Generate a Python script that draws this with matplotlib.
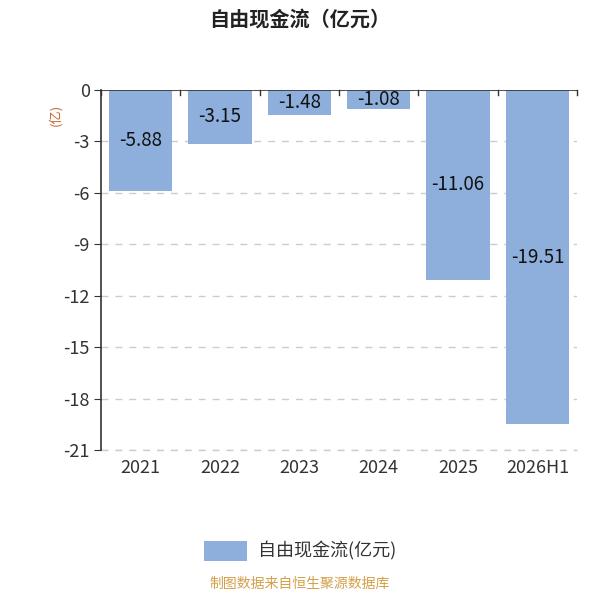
import matplotlib
matplotlib.use('Agg')
import matplotlib.pyplot as plt
from matplotlib.patches import Patch

plt.rcParams['font.family'] = ['Noto Sans CJK SC', 'DejaVu Sans']
plt.rcParams['axes.unicode_minus'] = False

years = ['2021', '2022', '2023', '2024', '2025', '2026H1']
fcf = [-5.88, -3.15, -1.48, -1.08, -11.06, -19.51]
yticks = [0, -3, -6, -9, -12, -15, -18, -21]

bar_color = '#8EAEDC'

fig = plt.figure(figsize=(6, 6), dpi=100)
ax = fig.add_axes([0.168, 0.25, 0.794, 0.60])

x = range(len(years))
bars = ax.bar(x, fcf, width=0.8, color=bar_color, zorder=3)

# value labels in the middle of each bar
for i, v in enumerate(fcf):
    ax.text(i, v / 2, f'{v:.2f}', ha='center', va='center', fontsize=13.5, color='#111111', zorder=4)

ax.set_xlim(-0.5, len(years) - 0.5)
ax.set_ylim(-21, 0)
ax.set_yticks(yticks)
ax.set_yticklabels([str(t) for t in yticks], fontsize=13, color='#333333')
ax.yaxis.grid(True, linestyle=(0, (5, 5)), color='#CCCCCC', linewidth=1, zorder=0)
ax.axhline(-21, linestyle=(0, (5, 5)), color='#CCCCCC', linewidth=1, zorder=0, clip_on=False)

# category labels at the bottom, no axis line there
ax.set_xticks([])
for i, y in enumerate(years):
    ax.text(i, -21.5, y, ha='center', va='top', fontsize=13, color='#333333')

# x axis line at zero with ticks between categories
ax.axhline(0, color='#333333', linewidth=1.2, zorder=5)
for b in range(len(years) + 1):
    ax.plot([b - 0.5, b - 0.5], [0, -0.3], color='#333333', linewidth=1, zorder=5, clip_on=False)

for s in ['top', 'right', 'bottom']:
    ax.spines[s].set_visible(False)
ax.spines['left'].set_color('#333333')
ax.spines['left'].set_linewidth(1.2)
ax.tick_params(axis='y', length=5, color='#333333', pad=3)

fig.text(0.093, 0.808, '(亿)', rotation=90, ha='center', va='center', fontsize=9.5, color='#C8642A')

fig.text(0.5, 0.968, '自由现金流（亿元）', ha='center', va='center', fontsize=14.5, fontweight='bold', color='#222222')

fig.legend(handles=[Patch(facecolor=bar_color, edgecolor='none', label='自由现金流(亿元)')],
           loc='center', bbox_to_anchor=(0.5, 0.082), frameon=False, fontsize=13,
           handlelength=2.4, handleheight=1.3, handletextpad=0.6, labelcolor='#333333')

fig.text(0.5, 0.015, '制图数据来自恒生聚源数据库', ha='center', va='bottom', fontsize=10, color='#D4A04A')

fig.savefig('out.png', dpi=100)
